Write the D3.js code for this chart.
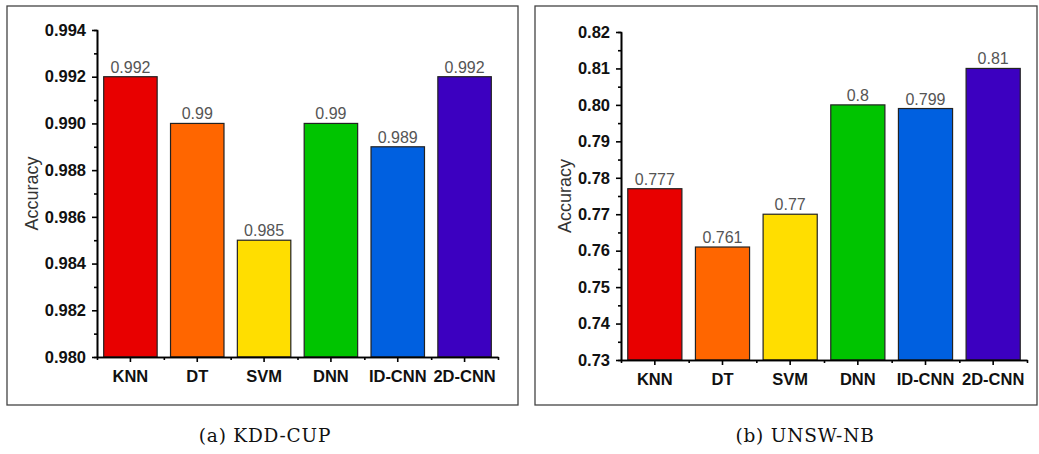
<!DOCTYPE html>
<meta charset="utf-8">
<script src="https://cdn.jsdelivr.net/npm/d3@7"></script>
<style>
  body { margin: 0; background: #fff; }
  svg { display: block; }
  .axis path, .axis line { stroke: #000; stroke-width: 1.6; }
  .axis text { font-family: "Liberation Sans", Arial, sans-serif; font-weight: bold; font-size: 16.5px; fill: #111; }
</style>
<body>
<script>

var categories = ["KNN", "DT", "SVM", "DNN", "ID-CNN", "2D-CNN"]
var barColors = ["#e80000", "#ff6600", "#ffde00", "#00c400", "#0060e0", "#3c00c0"]

var kddValues = [0.992, 0.99, 0.985, 0.99, 0.989, 0.992]
var kddLabels = ["0.992", "0.99", "0.985", "0.99", "0.989", "0.992"]
var kddTicks = [0.980, 0.982, 0.984, 0.986, 0.988, 0.990, 0.992, 0.994]
var kddMinor = [0.981, 0.983, 0.985, 0.987, 0.989, 0.991, 0.993]

var unswValues = [0.777, 0.761, 0.77, 0.8, 0.799, 0.81]
var unswLabels = ["0.777", "0.761", "0.77", "0.8", "0.799", "0.81"]
var unswTicks = [0.73, 0.74, 0.75, 0.76, 0.77, 0.78, 0.79, 0.80, 0.81, 0.82]
var unswMinor = [0.735, 0.745, 0.755, 0.765, 0.775, 0.785, 0.795, 0.805, 0.815]

var svg = d3.select("body").append("svg")
            .attr("width", 1039)
            .attr("height", 454)

function drawPanel(p) {
  var g = svg.append("g")

  // frame around the panel
  g.append("rect")
   .attr("x", p.box[0]).attr("y", p.box[1])
   .attr("width", p.box[2]).attr("height", p.box[3])
   .attr("fill", "none").attr("stroke", "#444").attr("stroke-width", 1.3)

  var x = d3.scaleBand().domain(categories).range([p.left, p.right]).paddingInner(0.2).paddingOuter(0.1)
  var y = d3.scaleLinear().domain(p.domain).range([p.bottom, p.top])

  g.selectAll(".bar").data(p.values).enter().append("rect")
   .attr("x", (d, i) => x(categories[i]))
   .attr("y", d => y(d))
   .attr("width", x.bandwidth())
   .attr("height", d => y(p.domain[0]) - y(d))
   .attr("fill", (d, i) => barColors[i])
   .attr("stroke", "#222").attr("stroke-width", 1.2)

  g.selectAll(".val").data(p.values).enter().append("text")
   .attr("x", (d, i) => x(categories[i]) + x.bandwidth() / 2)
   .attr("y", d => y(d) - 4)
   .attr("text-anchor", "middle")
   .style("font-family", "'Liberation Sans', Arial, sans-serif")
   .style("font-size", "16px")
   .style("fill", "#555")
   .text((d, i) => p.labels[i])

  // minor y ticks
  g.append("g").attr("class", "axis")
   .attr("transform", "translate(" + p.left + ",0)")
   .call(d3.axisLeft(y).tickValues(p.minor).tickSize(3).tickFormat(""))
  g.append("g").attr("class", "axis")
   .attr("transform", "translate(" + p.left + ",0)")
   .call(d3.axisLeft(y).tickValues(p.ticks).tickSize(5).tickSizeOuter(0).tickPadding(6).tickFormat(d3.format(p.fmt)))

  // x axis: major ticks at bar centres, minor ticks between bars
  var step = x.step()
  var minorX = d3.range(categories.length + 1).map(i => p.left + i * step)
  var xMinor = d3.scaleLinear().domain([p.left, p.right]).range([p.left, p.right])
  g.append("g").attr("class", "axis")
   .attr("transform", "translate(0," + p.bottom + ")")
   .call(d3.axisBottom(xMinor).tickValues(minorX).tickSize(3).tickSizeOuter(0).tickFormat(""))
  g.append("g").attr("class", "axis")
   .attr("transform", "translate(0," + p.bottom + ")")
   .call(d3.axisBottom(x).tickSize(5).tickSizeOuter(0).tickPadding(8))

  g.append("text")
   .attr("transform", "translate(" + p.labelX + "," + (p.top + p.bottom) / 2 + ") rotate(-90)")
   .attr("text-anchor", "middle")
   .style("font-family", "'Liberation Sans', Arial, sans-serif")
   .style("font-size", "18px")
   .style("fill", "#333")
   .text("Accuracy")

  svg.append("text")
   .attr("x", p.captionX).attr("y", 442)
   .attr("text-anchor", "middle")
   .style("font-family", "'DejaVu Serif', 'Liberation Serif', serif")
   .style("font-size", "18.5px")
   .style("letter-spacing", "0.8px")
   .style("fill", "#111")
   .text(p.caption)
}

drawPanel({
  box: [7, 6, 511, 399], left: 97, right: 498, top: 30, bottom: 357,
  domain: [0.980, 0.994], ticks: kddTicks, minor: kddMinor, fmt: ".3f",
  values: kddValues, labels: kddLabels, labelX: 38,
  caption: "(a) KDD-CUP", captionX: 265
})

drawPanel({
  box: [535, 6, 502, 399], left: 621, right: 1027, top: 32, bottom: 360,
  domain: [0.73, 0.82], ticks: unswTicks, minor: unswMinor, fmt: ".2f",
  values: unswValues, labels: unswLabels, labelX: 571,
  caption: "(b) UNSW-NB", captionX: 805
})

</script>
</body>
